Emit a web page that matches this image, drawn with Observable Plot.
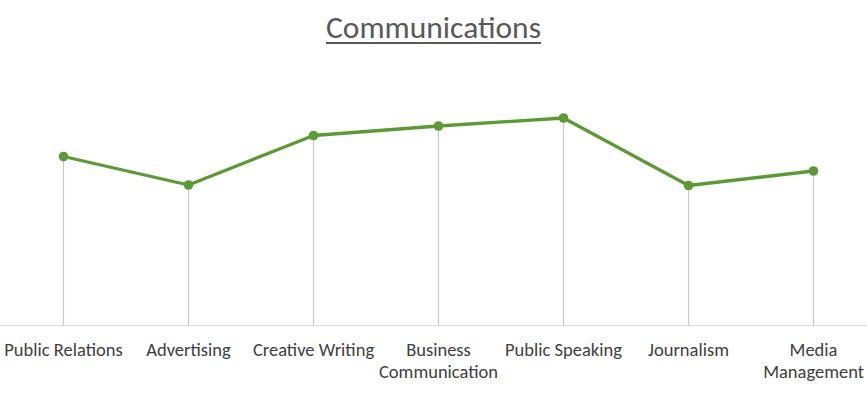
<!DOCTYPE html>
<html>
<head>
<meta charset="utf-8">
<script src="https://cdn.jsdelivr.net/npm/d3@7"></script>
<script src="https://cdn.jsdelivr.net/npm/@observablehq/plot@0.6"></script>
<style>
  html, body { margin: 0; padding: 0; background: #fff; }
  body { width: 867px; height: 413px; overflow: hidden; font-family: Carlito, Calibri, Lato, sans-serif; }
  #title { height: 60px; box-sizing: border-box; padding-top: 10px; text-align: center; font-size: 31.5px; color: #595959; line-height: 34px; }
  #title span { text-decoration: underline; text-decoration-thickness: 2px; text-underline-offset: 4px; }
</style>
</head>
<body>
<div id="title"><span>Communications</span></div>
<div id="chart"></div>
<script>
const categories = ["Public Relations", "Advertising", "Creative Writing", "Business Communication", "Public Speaking", "Journalism", "Media Management"];
const tickLabels = ["Public Relations", "Advertising", "Creative Writing", "Business\nCommunication", "Public Speaking", "Journalism", "Media\nManagement"];
const values = [3.38, 2.81, 3.80, 3.99, 4.15, 2.80, 3.09];

const data = categories.map((c, i) => ({category: c, value: values[i], label: tickLabels[i]}));
const labelOf = new Map(categories.map((c, i) => [c, tickLabels[i]]));

const chart = Plot.plot({
  width: 867,
  height: 353,
  marginLeft: 60,
  marginRight: 52,
  marginTop: 15,
  marginBottom: 88,
  style: {fontFamily: "Carlito, Calibri, Lato, sans-serif", background: "#fff"},
  x: {type: "point", domain: categories, padding: 0, axis: null},
  y: {domain: [0, 5], axis: null},
  marks: [
    Plot.ruleY([0], {stroke: "#d9d9d9", strokeWidth: 1.2, insetLeft: -70, insetRight: -70}),
    Plot.ruleX(data, {x: "category", y1: 0, y2: "value", stroke: "#c8c8c8", strokeWidth: 1.2}),
    Plot.line(data, {x: "category", y: "value", stroke: "#5b9b35", strokeWidth: 3.3}),
    Plot.dot(data, {x: "category", y: "value", r: 4.8, fill: "#5b9b35", stroke: "none"}),
    Plot.axisX({tickSize: 0, tickPadding: 15, label: null, tickFormat: d => labelOf.get(d), fontSize: 18.5, lineHeight: 1.2, fill: "#404040", textAnchor: "middle", lineWidth: 100})
  ]
});
document.getElementById("chart").appendChild(chart);
</script>
</body>
</html>
